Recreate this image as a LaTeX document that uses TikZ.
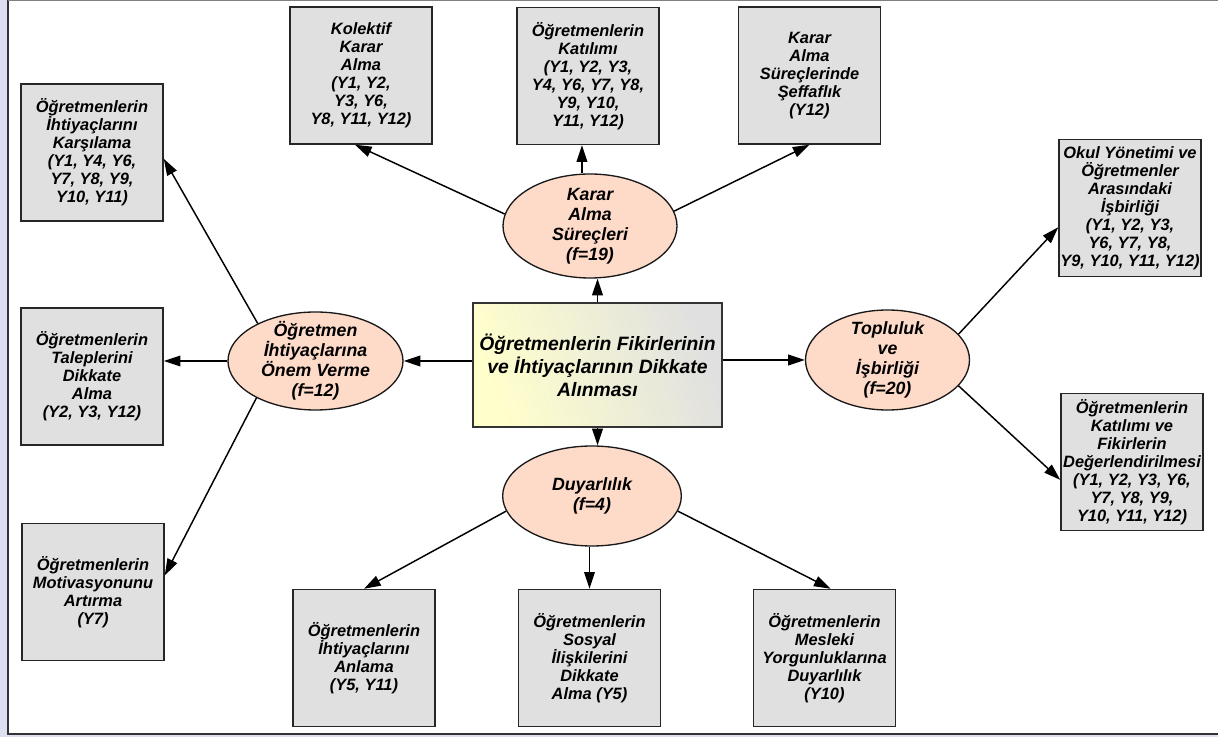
\documentclass[tikz,border=0pt]{standalone}
\usepackage{fontspec}
\setmainfont{Liberation Sans}
\usetikzlibrary{arrows.meta,shapes.geometric,calc}

\definecolor{leafgray}{RGB}{224,224,224}
\definecolor{themepeach}{RGB}{254,218,201}
\definecolor{coreyellow}{RGB}{255,255,204}
\definecolor{frameband}{RGB}{220,224,240}

\begin{document}
\begin{tikzpicture}[x=0.75pt, y=-0.75pt,
  leaf/.style={draw=black!85, line width=1.1pt, fill=leafgray,
               minimum width=106.5pt, minimum height=102.75pt, inner sep=1pt,
               align=center, font=\fontsize{12.3}{13.5}\selectfont\bfseries\itshape},
  theme/.style={ellipse, draw=black!90, line width=1pt, fill=themepeach, inner sep=0pt},
  themetext/.style={align=center, font=\fontsize{13.3}{15}\selectfont\bfseries\itshape},
  core/.style={draw=black!80, line width=1.1pt, left color=coreyellow, right color=leafgray,
               shading angle=110, minimum width=186.75pt, minimum height=93pt,
               align=center, font=\fontsize{14.5}{17.25}\selectfont\bfseries\itshape},
  link/.style={-{Triangle[length=12.5pt,width=8pt]}, line width=1.1pt, draw=black},
]
\useasboundingbox (0,0) rectangle (1218,737);

% ============ page frame ============
\fill[frameband] (0,0) rectangle (8,737);
\fill[frameband] (0,735) rectangle (1218,737);
\draw[black!80, line width=1.2pt] (8,0) -- (8,734) -- (1218,734);
\draw[black!50, line width=1pt] (8,0.7) -- (1218,0.7);

% ============ CENTRE ============
\node[core] (merkez) at (597.5, 365) {Öğretmenlerin Fikirlerinin\\ve İhtiyaçlarının Dikkate\\Alınması};

% ============ THEMES (ellipses) ============
\node[theme, minimum width=130.5pt, minimum height=78pt,
      label={[themetext]center:Karar\\Alma\\Süreçleri\\(f=19)}] (karar) at (590, 226) {};
\node[theme, minimum width=131.25pt, minimum height=73.5pt,
      label={[themetext]center:Öğretmen\\İhtiyaçlarına\\Önem Verme\\(f=12)}] (onem) at (315.5, 361) {};
\node[theme, minimum width=123pt, minimum height=75pt,
      label={[themetext]center:Topluluk\\ve\\İşbirliği\\(f=20)}] (toplu) at (887.5, 360) {};
\node[theme, minimum width=134pt, minimum height=75pt,
      label={[themetext]center:Duyarlılık\\(f=4)}] (duyar) at (592, 496) {};

% ============ CODES (boxes) ============
% top row
\node[leaf] (kolektif) at (361, 75.5) {Kolektif\\Karar\\Alma\\(Y1, Y2,\\Y3, Y6,\\Y8, Y11, Y12)};
\node[leaf] (katilim) at (588, 76) {Öğretmenlerin\\Katılımı\\(Y1, Y2, Y3,\\Y4, Y6, Y7, Y8,\\Y9, Y10,\\Y11, Y12)};
\node[leaf] (seffaf) at (809.5, 75.5) {Karar\\Alma\\Süreçlerinde\\Şeffaflık\\(Y12)};
% left column
\node[leaf] (karsila) at (92, 152.5) {Öğretmenlerin\\İhtiyaçlarını\\Karşılama\\(Y1, Y4, Y6,\\Y7, Y8, Y9,\\Y10, Y11)};
\node[leaf] (talep) at (92, 376.5) {Öğretmenlerin\\Taleplerini\\Dikkate\\Alma\\(Y2, Y3, Y12)};
\node[leaf] (motiv) at (93, 592) {Öğretmenlerin\\Motivasyonunu\\Artırma\\(Y7)};
% bottom row
\node[leaf] (anlama) at (364, 658) {Öğretmenlerin\\İhtiyaçlarını\\Anlama\\(Y5, Y11)};
\node[leaf] (sosyal) at (589.5, 658) {Öğretmenlerin\\Sosyal\\İlişkilerini\\Dikkate\\Alma (Y5)};
\node[leaf] (mesleki) at (824.5, 658) {Öğretmenlerin\\Mesleki\\Yorgunluklarına\\Duyarlılık\\(Y10)};
% right column
\node[leaf] (okul) at (1130, 208) {Okul Yönetimi ve\\Öğretmenler\\Arasındaki\\İşbirliği\\(Y1, Y2, Y3,\\Y6, Y7, Y8,\\Y9, Y10, Y11, Y12)};
\node[leaf] (degerl) at (1132, 462) {Öğretmenlerin\\Katılımı ve\\Fikirlerin\\Değerlendirilmesi\\(Y1, Y2, Y3, Y6,\\Y7, Y8, Y9,\\Y10, Y11, Y12)};

% ============ centre -> themes ============
\draw[link] (merkez.north) -- (karar.south -| merkez.north);
\draw[link] (merkez.west |- onem.east) -- (onem.east);
\draw[link] (merkez.east |- toplu.west) -- (toplu.west);
\draw[link] (merkez.south) -- (duyar.north -| merkez.south);

% ============ themes -> codes ============
\draw[link] (karar.172) -- (kolektif.-95);
\draw[link] (karar.north -| katilim.-95) -- (katilim.-95);
\draw[link] (karar.10) -- (seffaf.south);

\draw[link] (onem.147) -- (karsila.-5);
\draw[link] (onem.west) -- (onem.west -| talep.east);
\draw[link] (onem.212) -- (motiv.13);

\draw[link] (toplu.20) -- (okul.195);
\draw[link] (toplu.-20) -- (degerl.194);

\draw[link] (duyar.190) -- (anlama.north);
\draw[link] (duyar.south -| sosyal.north) -- (sosyal.north);
\draw[link] (duyar.-10) -- (mesleki.85);

\end{tikzpicture}
\end{document}
